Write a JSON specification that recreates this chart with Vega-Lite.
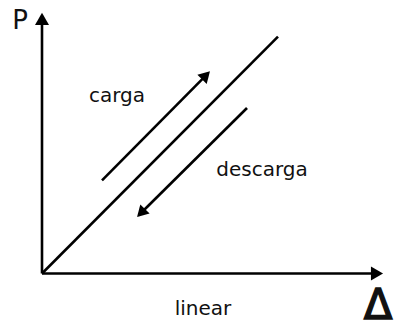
{
  "$schema": "https://vega.github.io/schema/vega-lite/v6.json",
  "width": 395,
  "height": 327,
  "autosize": {"type": "fit", "contains": "padding"},
  "padding": 0,
  "background": "white",
  "config": {"view": {"stroke": null}},
  "datasets": {
    "segments": [
      {"seg": "eje P", "ord": 0, "x": 0, "y": 0},
      {"seg": "eje P", "ord": 1, "x": 0, "y": 253},
      {"seg": "eje Δ", "ord": 0, "x": 0, "y": 0},
      {"seg": "eje Δ", "ord": 1, "x": 331, "y": 0},
      {"seg": "linear", "ord": 0, "x": 0, "y": 0},
      {"seg": "linear", "ord": 1, "x": 236, "y": 239},
      {"seg": "carga", "ord": 0, "x": 60, "y": 94},
      {"seg": "carga", "ord": 1, "x": 163, "y": 199},
      {"seg": "descarga", "ord": 0, "x": 205, "y": 167},
      {"seg": "descarga", "ord": 1, "x": 100, "y": 62}
    ],
    "heads": [
      {"seg": "eje P", "x": 0, "y": 257, "dir": 0, "big": true},
      {"seg": "eje Δ", "x": 335, "y": 0, "dir": 90, "big": true},
      {"seg": "carga", "x": 164, "y": 200, "dir": 44.5, "big": false},
      {"seg": "descarga", "x": 99, "y": 61, "dir": 224.5, "big": false}
    ],
    "labels": [
      {"text": "P", "x": -22, "y": 247, "kind": "axis"},
      {"text": "Δ", "x": 336, "y": -46, "kind": "delta"},
      {"text": "linear", "x": 161, "y": -42, "kind": "note"},
      {"text": "carga", "x": 75, "y": 173, "kind": "note"},
      {"text": "descarga", "x": 220, "y": 98, "kind": "note"}
    ]
  },
  "layer": [
    {
      "data": {"name": "segments"},
      "mark": {"type": "line", "color": "black", "strokeWidth": 2.6, "strokeCap": "butt"},
      "encoding": {
        "x": {"field": "x", "type": "quantitative", "scale": {"domain": [-42, 353], "nice": false, "zero": false}, "axis": null},
        "y": {"field": "y", "type": "quantitative", "scale": {"domain": [-51, 276], "nice": false, "zero": false}, "axis": null},
        "detail": {"field": "seg"},
        "order": {"field": "ord"}
      }
    },
    {
      "data": {"name": "heads"},
      "transform": [{"filter": "datum.big"}],
      "mark": {"type": "point", "shape": "triangle-up", "filled": true, "color": "black", "size": 196, "opacity": 1},
      "encoding": {
        "x": {"field": "x", "type": "quantitative"},
        "y": {"field": "y", "type": "quantitative"},
        "angle": {"field": "dir", "type": "quantitative", "scale": null}
      }
    },
    {
      "data": {"name": "heads"},
      "transform": [{"filter": "!datum.big"}],
      "mark": {"type": "point", "shape": "triangle-up", "filled": true, "color": "black", "size": 170, "opacity": 1},
      "encoding": {
        "x": {"field": "x", "type": "quantitative"},
        "y": {"field": "y", "type": "quantitative"},
        "angle": {"field": "dir", "type": "quantitative", "scale": null}
      }
    },
    {
      "data": {"name": "labels"},
      "transform": [{"filter": "datum.kind === 'note'"}],
      "mark": {"type": "text", "font": "DejaVu Sans", "fontSize": 20, "color": "#111", "align": "center", "baseline": "alphabetic"},
      "encoding": {
        "x": {"field": "x", "type": "quantitative"},
        "y": {"field": "y", "type": "quantitative"},
        "text": {"field": "text"}
      }
    },
    {
      "data": {"name": "labels"},
      "transform": [{"filter": "datum.kind === 'axis'"}],
      "mark": {"type": "text", "font": "DejaVu Sans", "fontSize": 26, "color": "#111", "align": "center", "baseline": "alphabetic"},
      "encoding": {
        "x": {"field": "x", "type": "quantitative"},
        "y": {"field": "y", "type": "quantitative"},
        "text": {"field": "text"}
      }
    },
    {
      "data": {"name": "labels"},
      "transform": [{"filter": "datum.kind === 'delta'"}],
      "mark": {"type": "text", "font": "DejaVu Sans", "fontSize": 42, "color": "#111", "stroke": "#111", "strokeWidth": 1.4, "align": "center", "baseline": "alphabetic"},
      "encoding": {
        "x": {"field": "x", "type": "quantitative"},
        "y": {"field": "y", "type": "quantitative"},
        "text": {"field": "text"}
      }
    }
  ]
}
